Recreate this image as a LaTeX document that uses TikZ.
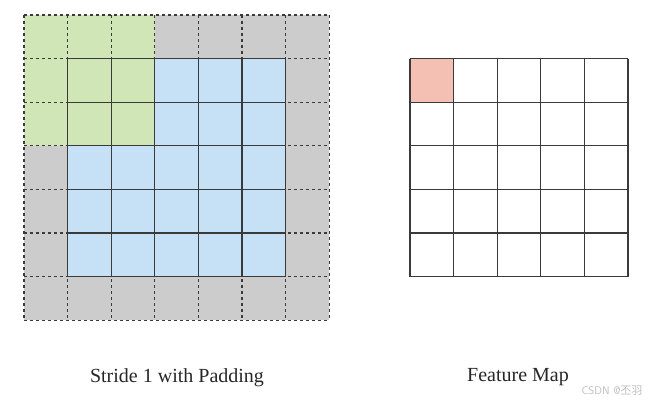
\documentclass[tikz,border=0pt]{standalone}
\usepackage{fontspec}
\setmainfont{Liberation Serif}
\newfontfamily\cjkfont{Noto Sans CJK SC}
\definecolor{padgray}{HTML}{CCCCCC}
\definecolor{inblue}{HTML}{C6E1F5}
\definecolor{kgreen}{HTML}{D0E6B6}
\definecolor{fpink}{HTML}{F4C0B4}
\definecolor{gridline}{HTML}{3A3A3A}
\definecolor{wmark}{HTML}{BDBDBD}
\tikzset{
  padgrid/.style={draw=gridline, line width=1.1pt, dash pattern=on 3pt off 3pt},
  solidgrid/.style={draw=gridline, line width=1.1pt},
  caption/.style={font=\fontsize{20}{24}\selectfont, text=black!85, inner sep=0pt},
}
\begin{document}
\begin{tikzpicture}[x=1pt,y=-1pt]
\useasboundingbox (0,0) rectangle (656,406);
\def\c{43.6}
% ---- left: padded input ----
\fill[padgray] (24,15) rectangle ++(7*\c,7*\c);
\fill[inblue] (24+\c,15+\c) rectangle ++(5*\c,5*\c);
\fill[kgreen] (24,15) rectangle ++(3*\c,3*\c);
\foreach \i in {0,...,7} {
  \draw[padgrid] (24+\i*\c,15) -- (24+\i*\c,15+7*\c);
  \draw[padgrid] (24,15+\i*\c) -- (24+7*\c,15+\i*\c);
}
\foreach \i in {0,...,5} {
  \draw[solidgrid] (24+\c+\i*\c,15+\c) -- (24+\c+\i*\c,15+6*\c);
  \draw[solidgrid] (24+\c,15+\c+\i*\c) -- (24+6*\c,15+\c+\i*\c);
}
% ---- right: feature map ----
\fill[fpink] (410,58.6) rectangle ++(\c,\c);
\foreach \i in {0,...,5} {
  \draw[solidgrid] (410+\i*\c,58.6) -- (410+\i*\c,58.6+5*\c);
  \draw[solidgrid] (410,58.6+\i*\c) -- (410+5*\c,58.6+\i*\c);
}
% ---- captions ----
\node[caption] (capL) at (177,378) {Stride 1 with Padding};
\node[caption] (capR) at (518,377) {Feature Map};
\node[inner sep=0pt, text=wmark, font=\fontsize{11}{13}\selectfont\sffamily] (wm) at (612,391) {CSDN @{\cjkfont 丕羽}};
\end{tikzpicture}
\end{document}
